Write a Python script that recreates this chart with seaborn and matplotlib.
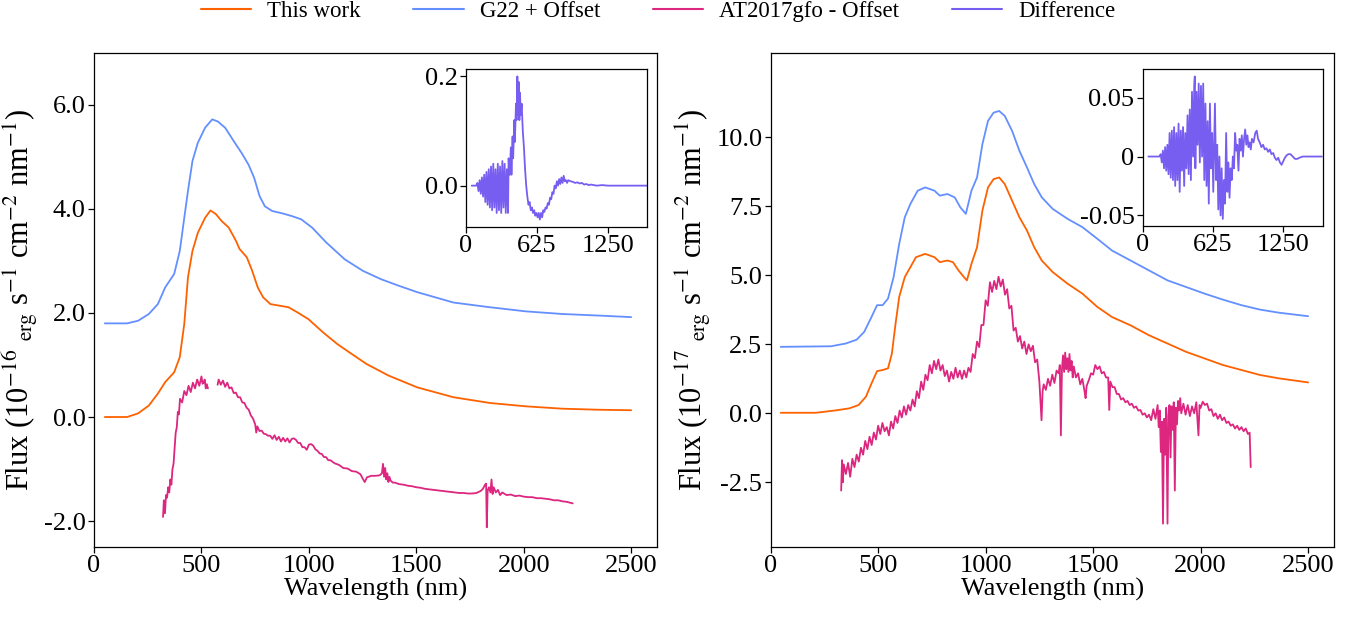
import numpy as np
import pandas as pd
import matplotlib.pyplot as plt
import seaborn as sns
from matplotlib.ticker import FormatStrFormatter, FuncFormatter

# ---------------- data ----------------
# left panel (1e-16 units)
ours_l_wl = [50, 154, 205, 255, 297, 331, 373, 399, 420, 437, 458, 483, 517, 542, 567, 593, 627, 660, 677, 711,
             736, 762, 787, 821, 863, 905, 947, 998, 1065, 1133, 1200, 1268, 1369, 1504, 1673, 1842, 2011, 2180, 2348, 2500]
ours_l_f = [0.0, 0.0, 0.07, 0.22, 0.45, 0.67, 0.86, 1.15, 1.79, 2.68, 3.19, 3.54, 3.83, 3.97, 3.90, 3.77, 3.64, 3.39, 3.23, 3.07,
            2.81, 2.49, 2.30, 2.17, 2.14, 2.11, 2.01, 1.88, 1.63, 1.40, 1.21, 1.02, 0.80, 0.57, 0.38, 0.27, 0.205, 0.16, 0.14, 0.13]

g22_l_wl = [50, 154, 205, 255, 297, 331, 373, 399, 420, 437, 458, 483, 517, 550, 576, 610, 635, 660, 686, 719,
            745, 770, 795, 829, 880, 922, 964, 1015, 1082, 1167, 1251, 1335, 1420, 1504, 1673, 1842, 2011, 2180, 2348, 2500]
g22_l_f = [1.80, 1.80, 1.85, 1.98, 2.17, 2.49, 2.75, 3.19, 3.83, 4.34, 4.92, 5.27, 5.56, 5.72, 5.68, 5.56, 5.40, 5.24, 5.08, 4.85,
           4.60, 4.25, 4.05, 3.96, 3.91, 3.86, 3.80, 3.64, 3.35, 3.03, 2.81, 2.65, 2.52, 2.40, 2.20, 2.11, 2.03, 1.98, 1.95, 1.92]

at_l_wl = [321, 325, 330, 335, 340, 345, 350, 355, 360, 365, 370, 375, 380, 385, 390, 395, 400, 410, 420, 430,
           440, 450, 460, 470, 480, 490, 500, 505, 510, 515, 520, 525, 530, 550, 575, 580, 590, 600, 610, 620,
           630, 640, 650, 660, 670, 680, 690, 700, 710, 720, 730, 740, 750, 755, 760, 770, 780, 790, 800, 810,
           820, 830, 840, 850, 860, 870, 880, 890, 900, 910, 920, 930, 940, 950, 960, 970, 980, 990, 1000, 1010,
           1020, 1030, 1040, 1050, 1060, 1070, 1080, 1090, 1100, 1120, 1140, 1160, 1180, 1200, 1220, 1240, 1250, 1260, 1270, 1290,
           1310, 1330, 1340, 1345, 1350, 1355, 1360, 1365, 1370, 1375, 1380, 1390, 1400, 1420, 1440, 1460, 1480, 1500, 1520, 1540,
           1560, 1580, 1600, 1620, 1640, 1660, 1680, 1700, 1720, 1740, 1760, 1780, 1800, 1810, 1820, 1825, 1828, 1832, 1838, 1845,
           1850, 1855, 1860, 1870, 1880, 1890, 1900, 1920, 1940, 1960, 1980, 2000, 2020, 2040, 2060, 2080, 2100, 2120, 2140, 2160,
           2180, 2200, 2220, 2228]
at_l_f = [-1.92, -1.6, -1.85, -1.5, -1.55, -1.35, -1.45, -1.2, -1.3, -1.0, -0.9, -0.6, -0.3, -0.2, 0.1, 0.05, 0.35, 0.28, 0.5, 0.42,
          0.6, 0.48, 0.66, 0.55, 0.72, 0.6, 0.78, 0.64, 0.66, 0.72, 0.55, 0.63, 0.55, None, 0.62, 0.72, 0.62, 0.7, 0.58, 0.66,
          0.55, 0.57, 0.46, 0.47, 0.38, 0.38, 0.28, 0.27, 0.18, 0.14, 0.03, -0.03, -0.14, -0.3, -0.18, -0.27, -0.26, -0.32, -0.33, -0.36,
          -0.36, -0.42, -0.35, -0.44, -0.38, -0.47, -0.4, -0.47, -0.41, -0.49, -0.42, -0.41, -0.44, -0.5, -0.5, -0.58, -0.58, -0.63, -0.53, -0.52,
          -0.55, -0.62, -0.65, -0.7, -0.71, -0.77, -0.77, -0.83, -0.83, -0.89, -0.92, -0.98, -0.99, -1.04, -1.05, -1.1, -1.18, -1.25, -1.16, -1.13,
          -1.13, -1.12, -1.08, -0.9, -1.15, -0.98, -1.2, -1.08, -1.25, -1.15, -1.22, -1.26, -1.26, -1.29, -1.3, -1.32, -1.33, -1.35, -1.36, -1.38,
          -1.39, -1.4, -1.41, -1.42, -1.43, -1.44, -1.45, -1.46, -1.46, -1.47, -1.47, -1.46, -1.42, -1.38, -1.3, -1.28, -2.12, -1.42, -1.35, -1.45,
          -1.2, -1.48, -1.35, -1.45, -1.4, -1.5, -1.45, -1.5, -1.49, -1.52, -1.51, -1.53, -1.54, -1.54, -1.56, -1.56, -1.57, -1.58, -1.6, -1.6,
          -1.62, -1.63, -1.65, -1.66]

diff_l_wl = [50, 90, 100, 110, 120, 130, 140, 150, 160, 170, 180, 190, 200, 210, 220, 230, 240, 250, 260, 270,
             280, 290, 300, 310, 320, 330, 340, 350, 360, 370, 375, 385, 395, 400, 410, 415, 425, 430, 440, 445,
             452, 458, 463, 470, 475, 482, 490, 500, 510, 520, 530, 540, 550, 560, 570, 580, 590, 600, 610, 620,
             630, 640, 650, 660, 670, 680, 690, 700, 710, 720, 730, 740, 750, 760, 770, 780, 790, 800, 810, 820,
             830, 840, 850, 860, 870, 880, 890, 900, 920, 940, 960, 980, 1000, 1020, 1040, 1060, 1080, 1100, 1150, 1200,
             1250, 1300, 1400, 1500, 1600]
diff_l = [0.0, 0.0, 0.005, -0.01, 0.01, -0.015, 0.015, -0.02, 0.02, -0.03, 0.025, -0.035, 0.03, -0.04, 0.035, -0.045, 0.04, -0.04, 0.03, -0.05,
          0.04, -0.045, 0.035, -0.05, 0.045, -0.04, 0.04, -0.05, 0.03, -0.05, 0.05, 0.02, 0.07, 0.02, 0.09, 0.05, 0.12, 0.08, 0.15, 0.12,
          0.2, 0.13, 0.19, 0.12, 0.17, 0.13, 0.15, 0.1, 0.07, 0.03, 0.0, -0.02, -0.035, -0.03, -0.045, -0.04, -0.05, -0.045, -0.055, -0.05,
          -0.058, -0.05, -0.062, -0.05, -0.058, -0.045, -0.048, -0.04, -0.042, -0.032, -0.035, -0.022, -0.025, -0.012, -0.015, 0.0, -0.005, 0.008, 0.0, 0.012,
          0.003, 0.015, 0.005, 0.018, 0.008, 0.01, 0.005, 0.01, 0.008, 0.007, 0.005, 0.006, 0.004, 0.005, 0.002, 0.003, 0.001, 0.002, 0.0, 0.001,
          0.0, 0.0, 0.0, 0.0, 0.0]

# right panel (1e-17 units)
ours_r_wl = [47, 211, 297, 366, 409, 443, 469, 495, 521, 546, 564, 581, 598, 624, 650, 676, 719, 762, 787, 822,
             848, 874, 899, 913, 934, 960, 985, 1011, 1037, 1063, 1089, 1123, 1157, 1192, 1226, 1261, 1312, 1381, 1450, 1519,
             1588, 1674, 1760, 1846, 1932, 2018, 2104, 2190, 2276, 2362, 2500]
ours_r_f = [0.02, 0.02, 0.1, 0.18, 0.30, 0.6, 1.08, 1.53, 1.57, 1.63, 2.17, 3.25, 4.22, 4.94, 5.30, 5.66, 5.78, 5.66, 5.48, 5.54,
            5.48, 5.18, 4.94, 4.82, 5.42, 6.02, 7.35, 8.19, 8.49, 8.55, 8.31, 7.71, 7.11, 6.63, 6.02, 5.54, 5.12, 4.70, 4.34, 3.86,
            3.49, 3.19, 2.83, 2.53, 2.23, 1.99, 1.75, 1.57, 1.39, 1.27, 1.12]

g22_r_wl = [47, 280, 349, 400, 435, 469, 495, 521, 546, 572, 598, 624, 650, 684, 719, 762, 787, 822, 856, 882,
            908, 934, 960, 985, 1011, 1037, 1063, 1089, 1123, 1157, 1192, 1226, 1261, 1312, 1381, 1450, 1519, 1588, 1674, 1760,
            1846, 1932, 2018, 2104, 2190, 2276, 2362, 2500]
g22_r_f = [2.41, 2.43, 2.53, 2.67, 2.95, 3.49, 3.92, 3.92, 4.16, 4.94, 6.14, 7.11, 7.59, 8.07, 8.19, 8.07, 7.89, 7.95, 7.83, 7.47,
           7.23, 8.07, 8.55, 9.76, 10.60, 10.90, 10.96, 10.78, 10.24, 9.52, 8.92, 8.31, 7.83, 7.41, 7.05, 6.75, 6.33, 5.90, 5.54, 5.18,
           4.82, 4.58, 4.34, 4.12, 3.92, 3.76, 3.65, 3.52]

at_r_wl = [328, 332, 336, 340, 350, 360, 370, 380, 390, 400, 410, 420, 430, 440, 450, 460, 470, 480, 490, 500,
           510, 520, 530, 540, 550, 560, 570, 580, 590, 600, 610, 620, 630, 640, 650, 660, 670, 680, 690, 700,
           710, 720, 730, 740, 750, 760, 770, 780, 790, 800, 810, 820, 830, 840, 850, 860, 870, 880, 890, 900,
           910, 920, 930, 940, 950, 960, 970, 980, 990, 1000, 1010, 1020, 1030, 1040, 1050, 1060, 1070, 1080, 1090, 1100,
           1110, 1120, 1130, 1140, 1150, 1160, 1170, 1180, 1190, 1200, 1210, 1220, 1230, 1240, 1250, 1260, 1265, 1270, 1280, 1290,
           1300, 1310, 1320, 1330, 1340, 1345, 1350, 1355, 1360, 1365, 1370, 1375, 1380, 1385, 1390, 1395, 1400, 1405, 1410, 1420,
           1430, 1440, 1450, 1460, 1465, 1470, 1480, 1490, 1500, 1510, 1520, 1530, 1540, 1550, 1560, 1570, 1575, 1580, 1590, 1600,
           1610, 1620, 1630, 1640, 1650, 1660, 1670, 1680, 1690, 1700, 1710, 1720, 1730, 1740, 1750, 1760, 1770, 1780, 1790, 1800,
           1805, 1810, 1815, 1820, 1825, 1830, 1835, 1840, 1846, 1850, 1855, 1860, 1865, 1870, 1875, 1880, 1885, 1890, 1895, 1900,
           1905, 1910, 1920, 1930, 1940, 1950, 1960, 1970, 1980, 1990, 1995, 2000, 2010, 2020, 2030, 2040, 2050, 2060, 2070, 2080,
           2090, 2100, 2110, 2120, 2130, 2140, 2150, 2160, 2170, 2180, 2190, 2200, 2210, 2220, 2228, 2233]
at_r_f = [-2.8, -1.7, -2.5, -1.85, -2.2, -1.8, -2.3, -1.65, -1.95, -1.5, -1.75, -1.25, -1.5, -1.0, -1.3, -0.85, -1.15, -0.7, -0.95, -0.45,
          -0.75, -0.35, -0.65, -0.5, -0.8, -0.3, -0.55, -0.1, -0.35, 0.1, -0.15, 0.25, -0.05, 0.3, 0.1, 0.5, 0.25, 0.8, 0.55, 1.15,
          0.85, 1.4, 1.2, 1.75, 1.45, 1.9, 1.6, 1.95, 1.55, 1.75, 1.35, 1.55, 1.15, 1.5, 1.25, 1.65, 1.3, 1.55, 1.25, 1.55,
          1.3, 1.65, 1.5, 2.15, 2.0, 2.6, 2.4, 3.2, 3.2, 4.1, 3.9, 4.75, 4.4, 4.8, 4.5, 4.95, 4.6, 4.85, 4.3, 4.5,
          3.8, 3.9, 3.0, 3.1, 2.6, 2.8, 2.35, 2.6, 2.15, 2.5, 2.25, 2.45, 1.85, 1.95, 1.15, -0.25, 0.8, 1.05, 0.85, 1.25,
          1.0, 1.4, 1.1, 1.55, 1.45, 1.75, -0.8, 1.6, 2.1, 1.5, 2.2, 1.6, 2.0, 1.5, 2.15, 1.55, 1.9, 1.3, 1.7, 1.3,
          1.45, 1.05, 1.25, 0.8, 0.55, 1.0, 1.2, 1.45, 1.4, 1.75, 1.6, 1.7, 1.45, 1.5, 1.3, 1.3, 0.12, 1.15, 0.95, 0.95,
          0.7, 0.7, 0.5, 0.55, 0.4, 0.45, 0.3, 0.35, 0.2, 0.25, 0.1, 0.12, -0.05, 0.0, -0.15, -0.05, -0.25, 0.15, -0.2, 0.3,
          -0.5, 0.1, -1.4, -0.3, -4.0, -0.2, -1.5, 0.2, -4.0, -0.1, 0.3, -1.6, 0.25, -0.6, 0.4, -2.8, 0.2, -0.4, 0.45, 0.1,
          0.55, 0.0, 0.35, -0.05, 0.3, -0.1, 0.25, 0.0, 0.4, -0.8, 0.3, 0.2, 0.42, 0.3, 0.35, 0.1, 0.15, -0.1, 0.0, -0.2,
          -0.05, -0.25, -0.15, -0.35, -0.3, -0.45, -0.4, -0.55, -0.45, -0.6, -0.5, -0.65, -0.55, -0.75, -0.7, -1.95]

diff_r_wl = [50, 150, 160, 170, 180, 190, 200, 210, 220, 230, 240, 250, 260, 270, 280, 290, 300, 310, 320, 330,
             340, 350, 360, 370, 380, 390, 400, 410, 420, 430, 440, 450, 460, 465, 470, 480, 490, 500, 510, 520,
             530, 540, 550, 560, 570, 580, 590, 600, 610, 620, 630, 645, 655, 665, 675, 685, 695, 705, 715, 725,
             735, 745, 755, 765, 775, 785, 795, 805, 815, 825, 835, 845, 855, 865, 875, 885, 895, 905, 915, 925,
             935, 945, 955, 965, 975, 990, 1005, 1018, 1030, 1045, 1060, 1075, 1090, 1105, 1120, 1135, 1150, 1165, 1180, 1195,
             1210, 1225, 1240, 1255, 1270, 1285, 1300, 1320, 1340, 1360, 1380, 1400, 1430, 1460, 1500, 1550, 1600]
diff_r = [0.0, 0.0, 0.002, -0.005, 0.005, -0.01, 0.008, -0.012, 0.01, -0.015, 0.02, -0.018, 0.022, -0.02, 0.025, -0.025, 0.02, -0.02, 0.028, -0.03,
          0.022, -0.012, 0.025, -0.025, 0.02, -0.01, 0.035, -0.015, 0.04, -0.02, 0.055, 0.0, 0.06, 0.068, -0.01, 0.055, 0.01, 0.062, -0.005, 0.06,
          0.0, 0.062, -0.02, 0.045, -0.025, 0.03, -0.04, 0.045, -0.01, 0.02, -0.03, 0.045, -0.02, 0.01, -0.045, 0.0, -0.05, -0.01, -0.053, -0.02,
          -0.04, 0.02, -0.03, -0.005, -0.035, -0.01, -0.02, 0.0, -0.01, 0.02, 0.005, 0.01, -0.012, 0.015, 0.005, 0.018, 0.0, 0.015, 0.023, 0.01,
          0.018, 0.008, 0.012, 0.006, 0.015, 0.012, 0.02, 0.022, 0.015, 0.012, 0.008, 0.01, 0.006, 0.007, 0.004, 0.006, 0.002, 0.003, -0.001, -0.003,
          -0.001, -0.005, -0.007, -0.004, -0.001, 0.001, 0.002, 0.002, 0.0, -0.002, -0.002, -0.001, 0.0, 0.0, 0.0, 0.0, 0.0]

labels = ['This work', 'G22 + Offset', 'AT2017gfo - Offset', 'Difference']
colors = ['#FE6100', '#648FFF', '#DC267F', '#785EF0']

# ---------------- style ----------------
sns.set_theme(style='ticks')
plt.rcParams['font.family'] = ['Liberation Serif', 'DejaVu Serif']
plt.rcParams['mathtext.fontset'] = 'stix'
plt.rcParams['axes.unicode_minus'] = False
plt.rcParams['axes.edgecolor'] = 'black'
plt.rcParams['xtick.color'] = 'black'
plt.rcParams['ytick.color'] = 'black'
plt.rcParams['text.color'] = 'black'
plt.rcParams['axes.labelcolor'] = 'black'
plt.rcParams['axes.linewidth'] = 0.9

TICK_FS = 19
LAB_FS = 19


def draw(ax, wl, f, color):
    # split at gaps (None) so the line breaks there
    f = np.array([np.nan if v is None else v for v in f], dtype=float)
    wl = np.asarray(wl, dtype=float)
    seg = np.cumsum(np.isnan(f))
    ok = ~np.isnan(f)
    df = pd.DataFrame({'wl': wl[ok], 'f': f[ok], 'seg': seg[ok]})
    for _, d in df.groupby('seg'):
        sns.lineplot(data=d, x='wl', y='f', ax=ax, color=color, lw=1.3,
                     estimator=None, sort=False)


fig = plt.figure(figsize=(13.63, 6.21), dpi=100)
ax1 = fig.add_axes([0.069, 0.119, 0.4133, 0.796])
ax2 = fig.add_axes([0.5654, 0.119, 0.4131, 0.796])

draw(ax1, ours_l_wl, ours_l_f, colors[0])
draw(ax1, g22_l_wl, g22_l_f, colors[1])
draw(ax1, at_l_wl, at_l_f, colors[2])
draw(ax2, ours_r_wl, ours_r_f, colors[0])
draw(ax2, g22_r_wl, g22_r_f, colors[1])
draw(ax2, at_r_wl, at_r_f, colors[2])

ax1.set_xlim(0, 2622)
ax1.set_ylim(-2.5, 7.0)
ax1.set_yticks([-2, 0, 2, 4, 6])
ax1.yaxis.set_major_formatter(FormatStrFormatter('%.1f'))
ax1.set_ylabel(r'Flux (10$^{-16}$ $_{\mathrm{erg}}$ s$^{-1}$ cm$^{-2}$ nm$^{-1}$)', fontsize=22, labelpad=2)

ax2.set_xlim(0, 2619)
ax2.set_ylim(-4.85, 13.07)
ax2.set_yticks([-2.5, 0, 2.5, 5, 7.5, 10])
ax2.yaxis.set_major_formatter(FormatStrFormatter('%.1f'))
ax2.set_ylabel(r'Flux (10$^{-17}$ $_{\mathrm{erg}}$ s$^{-1}$ cm$^{-2}$ nm$^{-1}$)', fontsize=22, labelpad=2)

for ax in (ax1, ax2):
    ax.set_xticks([0, 500, 1000, 1500, 2000, 2500])
    ax.set_xlabel('Wavelength (nm)', fontsize=LAB_FS, labelpad=0)
    ax.tick_params(labelsize=TICK_FS, length=4, width=0.9, pad=2)
    for s in ax.spines.values():
        s.set_visible(True)

# insets
in1 = fig.add_axes([0.3419, 0.635, 0.133, 0.2535])
in2 = fig.add_axes([0.8384, 0.636, 0.132, 0.2523])
draw(in1, diff_l_wl, diff_l, colors[3])
draw(in2, diff_r_wl, diff_r, colors[3])
in1.set_xlim(0, 1596)
in1.set_yticks([0.0, 0.2])
in1.yaxis.set_major_formatter(FormatStrFormatter('%.1f'))
in2.set_xlim(0, 1607)
in2.set_yticks([-0.05, 0, 0.05])
in2.yaxis.set_major_formatter(FuncFormatter(lambda v, p: '{:g}'.format(round(v, 3))))
for ax in (in1, in2):
    ax.set_xticks([0, 625, 1250])
    ax.set_xlabel('')
    ax.set_ylabel('')
    ax.tick_params(labelsize=TICK_FS, length=4, width=0.9, pad=2)
    for s in ax.spines.values():
        s.set_visible(True)

handles = [plt.Line2D([], [], color=c, lw=1.5) for c in colors]
fig.legend(handles, labels, loc='center', bbox_to_anchor=(0.4828, 0.982), ncol=4,
           frameon=False, fontsize=16.5, handlelength=2.2, handletextpad=0.7,
           columnspacing=2.3, borderaxespad=0)

fig.savefig('out.png', dpi=100)
